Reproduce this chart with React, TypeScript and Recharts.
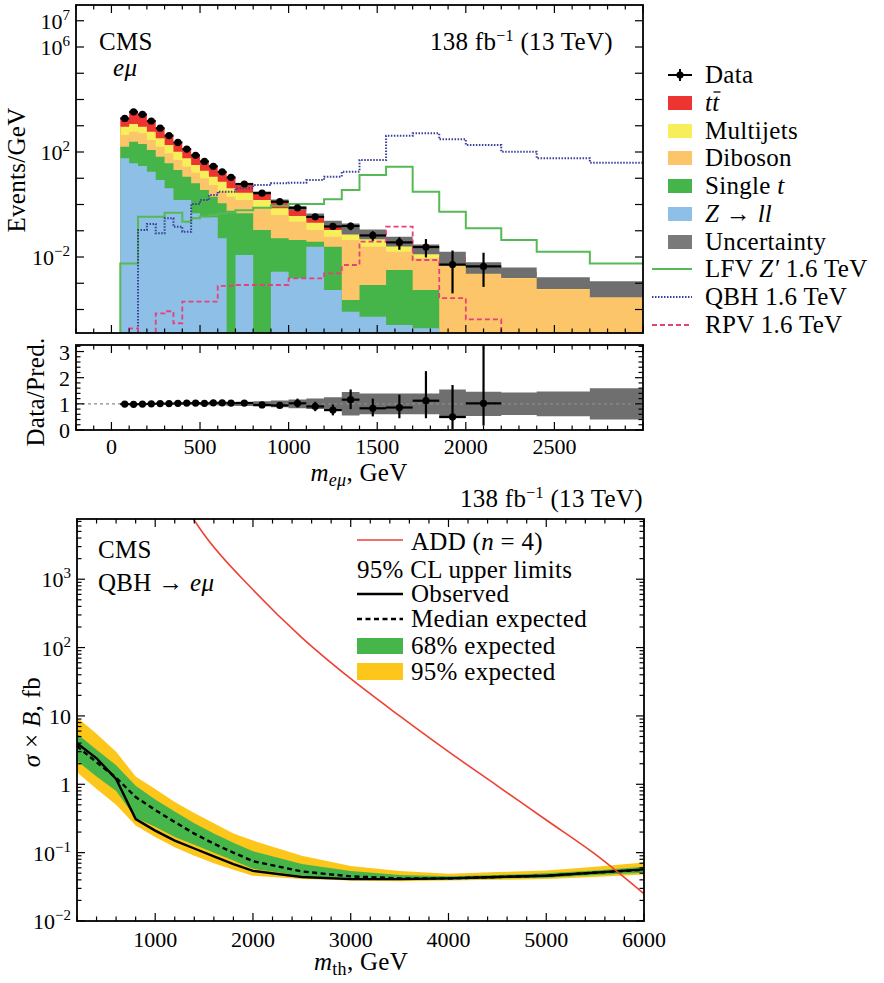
import React from "react";
import {
  ComposedChart,
  Area,
  Line,
  Scatter,
  ErrorBar,
  XAxis,
  YAxis,
  ReferenceLine,
} from "recharts";

const FONT = "'Liberation Serif', 'Times New Roman', serif";

/* ---------- e-mu invariant mass spectrum (events / GeV) ---------- */
const binEdges = [50, 100, 150, 200, 250, 300, 350, 400, 450, 500, 550, 600, 650, 700, 800, 900, 1000, 1100, 1200, 1300, 1400, 1550, 1700, 1850, 2000, 2200, 2400, 2700, 3000];

const ttbar = [996, 2276, 1800, 921, 466, 234, 124, 68.6, 40.4, 23.4, 16.1, 9.39, 6.37, 3.04, 1.34, 0.646, 0.371, 0.173, 0.085, 0.051, 0.0284, 0.0133, 0.0076, 0.00366, 0.00108, 0.00087, 0.00041, 0.0003];
const multijets = [478, 571, 409, 310, 172, 96, 53.5, 29.8, 15.7, 9.57, 5.97, 4.33, 2.14, 1.34, 0.766, 0.316, 0.143, 0.096, 0.047, 0.0353, 0.0266, 0.0126, 0.0049, 0.00169, 0.00067, 0.00035, 0.000154, 0.000111];
const diboson = [285, 348, 312, 167, 93.6, 51.9, 28.9, 16.1, 9.9, 6.37, 3.54, 1.97, 1.41, 1.02, 0.607, 0.347, 0.177, 0.0686, 0.0348, 0.0443, 0.0239, 0.0128, 0.00835, 0.00495, 0.00253, 0.00154, 0.000586, 0.000327];
const singleTop = [102.6, 211, 173, 101, 57.8, 32.9, 19.1, 10.0, 5.94, 3.24, 1.67, 1.06, 0.582, 0.448, 0.107, 0.0486, 0.043, 0.0136, 0.0242, 0.000148, 0.000804, 0.00317, 0.000534, 0, 0, 0, 0, 0];
const zll = [57.4, 37, 29.3, 17.8, 8.57, 4.13, 1.48, 1.48, 0.46, 0.324, 0.324, 0.0514, 0, 0.0119, 0, 0.00276, 0.00154, 0.0248, 0.000553, 0.0000826, 0.0000533, 0.0000257, 0.0000192, 0, 0, 0, 0, 0];
const uncRel = [0.03, 0.03, 0.03, 0.03, 0.03, 0.035, 0.035, 0.04, 0.045, 0.05, 0.055, 0.06, 0.07, 0.08, 0.1, 0.13, 0.17, 0.2, 0.25, 0.45, 0.4, 0.4, 0.4, 0.55, 0.46, 0.43, 0.47, 0.6];

const lfv = [0.0057, 0.0057, 0.344, 0.344, 0.344, 0.489, 0.489, 0.22, 0.3, 0.35, 0.4, 0.45, 0.5, 0.6, 0.75, 0.9, 1.04, 1.04, 1.57, 3.57, 13.3, 27.6, 3.08, 0.533, 0.124, 0.0445, 0.016, 0.0057];
const qbh = [0, 0, 0.107, 0.181, 0.08, 0.297, 0.143, 0.092, 1.04, 1.48, 2.3, 3.08, 3.08, 4.13, 5.53, 6.4, 6.79, 8.57, 11.5, 17.8, 49.5, 419, 514, 304, 185, 103, 57.4, 39.3];
const rpv = [0, 1.9e-5, 0, 0, 7.1e-5, 8.6e-5, 3e-5, 2e-4, 2e-4, 2e-4, 2e-4, 7.9e-4, 7.9e-4, 8.6e-4, 8.6e-4, 8.6e-4, 1.54e-3, 1.54e-3, 2.39e-3, 4.95e-3, 0.0384, 0.143, 0.0077, 2.7e-4, 4.2e-5, 0, 0, 0];

/* data / prediction, with error bar limits (first 25 bins have data) */
const ratio = [0.99, 0.98, 0.99, 1.0, 1.01, 1.01, 1.02, 1.03, 1.03, 1.02, 1.04, 1.04, 1.03, 1.03, 0.96, 0.94, 1.02, 0.9, 0.76, 1.16, 0.83, 0.86, 1.12, 0.5, 1.02];
const ratioLo = [0.985, 0.976, 0.986, 0.995, 1.004, 1.002, 1.01, 1.017, 1.013, 1.0, 1.015, 1.01, 0.995, 0.995, 0.91, 0.87, 0.86, 0.72, 0.56, 0.8, 0.52, 0.45, 0.45, 0.04, 0.17];
const ratioHi = [0.995, 0.984, 0.994, 1.005, 1.016, 1.018, 1.03, 1.043, 1.047, 1.04, 1.065, 1.07, 1.065, 1.065, 1.01, 1.01, 1.2, 1.08, 0.97, 1.55, 1.2, 1.35, 2.25, 1.72, 3.4];

/* ---------- QBH -> e mu limits (fb) ---------- */
const limMass = [200, 400, 600, 800, 1000, 1200, 1400, 1600, 1800, 2000, 2500, 3000, 3500, 4000, 4500, 5000, 5500, 6000];
const observed = [4.0, 2.4, 1.2, 0.31, 0.21, 0.15, 0.115, 0.088, 0.068, 0.054, 0.044, 0.041, 0.041, 0.042, 0.044, 0.046, 0.051, 0.057];
const expected = [3.6, 2.1, 1.25, 0.65, 0.42, 0.28, 0.19, 0.135, 0.1, 0.075, 0.053, 0.045, 0.042, 0.042, 0.044, 0.046, 0.051, 0.056];
const exp68Lo = [2.2, 1.3, 0.8, 0.32, 0.24, 0.17, 0.13, 0.1, 0.077, 0.058, 0.046, 0.041, 0.04, 0.04, 0.042, 0.043, 0.047, 0.051];
const exp68Hi = [5.5, 3.2, 1.9, 0.95, 0.6, 0.4, 0.27, 0.19, 0.14, 0.105, 0.068, 0.054, 0.047, 0.045, 0.047, 0.05, 0.055, 0.062];
const exp95Lo = [1.5, 0.85, 0.5, 0.25, 0.17, 0.12, 0.09, 0.07, 0.056, 0.046, 0.041, 0.039, 0.038, 0.039, 0.04, 0.041, 0.044, 0.048];
const exp95Hi = [9.5, 5.5, 3.0, 1.3, 0.85, 0.55, 0.38, 0.27, 0.19, 0.15, 0.09, 0.064, 0.054, 0.049, 0.052, 0.055, 0.062, 0.072];
const addMass = [1300, 1500, 2000, 2500, 3000, 3500, 4000, 4500, 5000, 5500, 6000];
const addXsec = [12000, 4500, 700, 140, 35, 10, 3.0, 0.95, 0.3, 0.095, 0.025];

/* ---------- build tables ---------- */
const FLOOR = 1e-9;
const TOP_MIN = Math.pow(10, -4.895);
const TOP_MAX = Math.pow(10, 7.6);
const R_MAX = 3.25;
const LIM_MIN = 0.01;
const LIM_MAX = 7600;
const nb = binEdges.length - 1;

const stackRows = binEdges.map((x, i) => {
  const j = Math.min(i, nb - 1);
  const z = zll[j];
  const st = z + singleTop[j];
  const db = st + diboson[j];
  const mj = db + multijets[j];
  const tt = mj + ttbar[j];
  return {
    x,
    z: Math.max(z, FLOOR),
    st: Math.max(st, FLOOR),
    db,
    mj,
    tt,
    unc: [tt * (1 - uncRel[j]), tt * (1 + uncRel[j])],
    band: [1 - uncRel[j], 1 + uncRel[j]],
  };
});

const sigRows = [
  { x: binEdges[0], lfv: FLOOR, qbh: FLOOR, rpv: FLOOR },
  ...binEdges.map((x, i) => {
    const j = Math.min(i, nb - 1);
    return { x, lfv: Math.max(lfv[j], FLOOR), qbh: Math.max(qbh[j], FLOOR), rpv: Math.max(rpv[j], FLOOR) };
  }),
];

const dataPts = ratio.map((r, i) => {
  const lo = binEdges[i];
  const hi = binEdges[i + 1];
  const tot = stackRows[i].tt;
  const y = tot * r;
  return { x: (lo + hi) / 2, y, ex: [(hi - lo) / 2, (hi - lo) / 2], ey: [y - tot * ratioLo[i], tot * ratioHi[i] - y] };
});

const ratioPts = ratio.map((r, i) => {
  const lo = binEdges[i];
  const hi = binEdges[i + 1];
  return { x: (lo + hi) / 2, y: r, ex: [(hi - lo) / 2, (hi - lo) / 2], ey: [r - ratioLo[i], Math.min(ratioHi[i], R_MAX) - r] };
});

const limRows = limMass.map((x, i) => ({
  x,
  obs: observed[i],
  exp: expected[i],
  b68: [exp68Lo[i], exp68Hi[i]],
  b95: [exp95Lo[i], exp95Hi[i]],
}));
const addRows = addMass.map((x, i) => ({ x, add: addXsec[i] }));

/* ---------- ticks ---------- */
const range = (a: number, b: number, s: number) => {
  const out: number[] = [];
  for (let v = a; v <= b + 1e-9; v += s) out.push(Math.round(v * 1000) / 1000);
  return out;
};
const topTicksX = range(-200, 3000, 100);
const topTicksY = range(-4, 7, 1).map((e) => Math.pow(10, e));
const ratioTicksY = range(0, 3.2, 0.2);
const limTicksX = range(200, 6000, 200);
const limTicksY: number[] = [];
for (let e = -2; e <= 3; e++) for (let m = 1; m <= 9; m++) if (m * Math.pow(10, e) <= LIM_MAX) limTicksY.push(m * Math.pow(10, e));

const sup = (base: string, exp: string) => (
  <>
    <tspan>{base}</tspan>
    <tspan dy={-9} fontSize={15}>{exp}</tspan>
  </>
);
const powLabel = (v: number) => {
  const e = Math.round(Math.log10(v));
  if (e === 0) return "1";
  if (e === 1) return "10";
  return sup("10", e < 0 ? "\u2212" + -e : String(e));
};

const xTick =
  (top: number, bottom: number, isMajor: (v: number) => boolean, label: (v: number) => string | null, labelY: number) =>
  (p: any) => {
    const x = p.payload?.coordinate ?? p.x;
    const v = p.payload.value;
    const len = isMajor(v) ? 8 : 4.5;
    const lab = label(v);
    return (
      <g>
        <line x1={x} x2={x} y1={bottom} y2={bottom - len} stroke="#000" strokeWidth={1.2} />
        <line x1={x} x2={x} y1={top} y2={top + len} stroke="#000" strokeWidth={1.2} />
        {lab && (
          <text x={x} y={labelY} textAnchor="middle" fontFamily={FONT} fontSize={22} fill="#000">
            {lab}
          </text>
        )}
      </g>
    );
  };

const yTick =
  (left: number, right: number, isMajor: (v: number) => boolean, label: (v: number) => React.ReactNode | null) =>
  (p: any) => {
    const y = p.payload?.coordinate ?? p.y;
    const v = p.payload.value;
    const len = isMajor(v) ? 8 : 4.5;
    const lab = label(v);
    return (
      <g>
        <line x1={left} x2={left + len} y1={y} y2={y} stroke="#000" strokeWidth={1.2} />
        <line x1={right - len} x2={right} y1={y} y2={y} stroke="#000" strokeWidth={1.2} />
        {lab && (
          <text x={left - 6} y={y + 8} textAnchor="end" fontFamily={FONT} fontSize={22} fill="#000">
            {lab}
          </text>
        )}
      </g>
    );
  };

const near = (a: number, b: number) => Math.abs(a - b) < 1e-6;
const dot = (p: any) => <circle cx={p.cx} cy={p.cy} r={3.6} fill="#000" />;

const C = {
  tt: "#ed3431",
  mj: "#f6ee5a",
  db: "#fcc56a",
  st: "#46b549",
  z: "#8ebfe7",
  unc: "#6f6f6f",
  lfv: "#55b955",
  qbh: "#3b3f99",
  rpv: "#e8407a",
  g68: "#46b54a",
  y95: "#fdc61a",
  add: "#ee4035",
};

/* ---------- panels ---------- */
function SpectrumPanel() {
  const labelsTop: Record<number, string> = { 7: "7", 6: "6", 2: "2", [-2]: "\u22122" };
  return (
    <ComposedChart width={884} height={340} data={stackRows} margin={{ top: 5, right: 241, bottom: 6, left: 75 }}>
      <Area dataKey="tt" type="stepAfter" fill={C.tt} fillOpacity={1} stroke="none" baseValue={TOP_MIN} dot={false} activeDot={false} isAnimationActive={false} />
      <Area dataKey="mj" type="stepAfter" fill={C.mj} fillOpacity={1} stroke="none" baseValue={TOP_MIN} dot={false} activeDot={false} isAnimationActive={false} />
      <Area dataKey="db" type="stepAfter" fill={C.db} fillOpacity={1} stroke="none" baseValue={TOP_MIN} dot={false} activeDot={false} isAnimationActive={false} />
      <Area dataKey="st" type="stepAfter" fill={C.st} fillOpacity={1} stroke="none" baseValue={TOP_MIN} dot={false} activeDot={false} isAnimationActive={false} />
      <Area dataKey="z" type="stepAfter" fill={C.z} fillOpacity={1} stroke="none" baseValue={TOP_MIN} dot={false} activeDot={false} isAnimationActive={false} />
      <Area dataKey="unc" type="stepAfter" fill={C.unc} fillOpacity={1} stroke="none" dot={false} activeDot={false} isAnimationActive={false} />
      <Line data={sigRows} dataKey="lfv" type="stepAfter" stroke={C.lfv} strokeWidth={2} dot={false} activeDot={false} isAnimationActive={false} />
      <Line data={sigRows} dataKey="qbh" type="stepAfter" stroke={C.qbh} strokeWidth={2} strokeDasharray="1.5 1.5" dot={false} activeDot={false} isAnimationActive={false} />
      <Line data={sigRows} dataKey="rpv" type="stepAfter" stroke={C.rpv} strokeWidth={1.8} strokeDasharray="5 3" dot={false} activeDot={false} isAnimationActive={false} />
      <Scatter data={dataPts} dataKey="y" shape={dot} isAnimationActive={false}>
        <ErrorBar dataKey="ey" direction="y" width={0} stroke="#000" strokeWidth={2.2} isAnimationActive={false} />
        <ErrorBar dataKey="ex" direction="x" width={0} stroke="#000" strokeWidth={2.2} isAnimationActive={false} />
      </Scatter>
      <XAxis
        dataKey="x"
        type="number"
        domain={[-200, 3000]}
        allowDataOverflow
        ticks={topTicksX}
        interval={0}
        height={1}
        axisLine={false}
        tickLine={false}
        tick={xTick(5, 333, (v) => near(v % 500, 0), () => null, 0)}
      />
      <YAxis
        scale="log"
        domain={[TOP_MIN, TOP_MAX]}
        allowDataOverflow
        ticks={topTicksY}
        interval={0}
        width={1}
        axisLine={false}
        tickLine={false}
        tick={yTick(76, 643, () => true, (v) => {
          const e = Math.round(Math.log10(v));
          return labelsTop[e] ? sup("10", labelsTop[e]) : null;
        })}
      />
    </ComposedChart>
  );
}

function RatioPanel() {
  return (
    <ComposedChart width={884} height={160} data={stackRows} margin={{ top: 15, right: 241, bottom: 59, left: 75 }}>
      <Area dataKey="band" type="stepAfter" fill={C.unc} fillOpacity={1} stroke="none" dot={false} activeDot={false} isAnimationActive={false} />
      <ReferenceLine y={1} stroke="#8a8a8a" strokeWidth={1.3} strokeDasharray="3 3" />
      <Scatter data={ratioPts} dataKey="y" shape={dot} isAnimationActive={false}>
        <ErrorBar dataKey="ey" direction="y" width={0} stroke="#000" strokeWidth={2.2} isAnimationActive={false} />
        <ErrorBar dataKey="ex" direction="x" width={0} stroke="#000" strokeWidth={2.2} isAnimationActive={false} />
      </Scatter>
      <XAxis
        dataKey="x"
        type="number"
        domain={[-200, 3000]}
        allowDataOverflow
        ticks={topTicksX}
        interval={0}
        height={1}
        axisLine={false}
        tickLine={false}
        tick={xTick(15, 100, (v) => near(v % 500, 0), (v) => (near(v % 500, 0) && v >= 0 && v < 3000 ? String(v) : null), 124)}
      />
      <YAxis
        domain={[0, R_MAX]}
        allowDataOverflow
        ticks={ratioTicksY}
        interval={0}
        width={1}
        axisLine={false}
        tickLine={false}
        tick={yTick(76, 643, (v) => near(v, Math.round(v)), (v) => (near(v, Math.round(v)) ? String(Math.round(v)) : null))}
      />
    </ComposedChart>
  );
}

function LimitPanel() {
  return (
    <ComposedChart width={884} height={493} data={limRows} margin={{ top: 29, right: 240, bottom: 61, left: 76 }}>
      <Area dataKey="b95" type="linear" fill={C.y95} fillOpacity={1} stroke="none" dot={false} activeDot={false} isAnimationActive={false} />
      <Area dataKey="b68" type="linear" fill={C.g68} fillOpacity={1} stroke="none" dot={false} activeDot={false} isAnimationActive={false} />
      <Line dataKey="exp" type="linear" stroke="#000" strokeWidth={2.4} strokeDasharray="5 3.5" dot={false} activeDot={false} isAnimationActive={false} />
      <Line dataKey="obs" type="linear" stroke="#000" strokeWidth={2.4} dot={false} activeDot={false} isAnimationActive={false} />
      <Line data={addRows} dataKey="add" type="monotone" stroke={C.add} strokeWidth={1.6} dot={false} activeDot={false} isAnimationActive={false} />
      <XAxis
        dataKey="x"
        type="number"
        domain={[200, 6000]}
        allowDataOverflow
        ticks={limTicksX}
        interval={0}
        height={1}
        axisLine={false}
        tickLine={false}
        tick={xTick(29, 431, (v) => near(v % 1000, 0), (v) => (near(v % 1000, 0) ? String(v) : null), 457)}
      />
      <YAxis
        scale="log"
        domain={[LIM_MIN, LIM_MAX]}
        allowDataOverflow
        ticks={limTicksY}
        interval={0}
        width={1}
        axisLine={false}
        tickLine={false}
        tick={yTick(77, 644, (v) => near(Math.log10(v), Math.round(Math.log10(v))), (v) =>
          near(Math.log10(v), Math.round(Math.log10(v))) ? powLabel(v) : null
        )}
      />
    </ComposedChart>
  );
}

/* ---------- text, legends, frames ---------- */
const T = (props: any) => <text fontFamily={FONT} fontSize={25} letterSpacing={0.3} fill="#000" {...props} />;
const I = (props: any) => <tspan fontStyle="italic" {...props} />;

function Overlay() {
  const lx = 705;
  const rows = [75, 103, 131, 158, 186, 214, 242, 269, 297, 325];
  const box = (cy: number, fill: string) => <rect x={668} y={cy - 7} width={24} height={14} fill={fill} />;
  const by = [542, 569.5, 594, 619, 646, 671.5];
  return (
    <svg width={884} height={983} style={{ position: "absolute", left: 0, top: 0, pointerEvents: "none" }}>
      <rect x={76} y={5} width={567} height={328} fill="none" stroke="#000" strokeWidth={1.8} />
      <rect x={76} y={345} width={567} height={85} fill="none" stroke="#000" strokeWidth={1.8} />
      <rect x={77} y={519} width={567} height={402} fill="none" stroke="#000" strokeWidth={1.8} />

      {/* top panel labels */}
      <T x={99} y={50}>CMS</T>
      <T x={113} y={76}>
        <I>eμ</I>
      </T>
      <T x={613} y={49.5} textAnchor="end">
        138 fb<tspan dy={-9} fontSize={16}>{"\u22121"}</tspan>
        <tspan dy={9}> (13 TeV)</tspan>
      </T>
      <T transform="translate(25,170) rotate(-90)" textAnchor="middle">Events/GeV</T>
      <T transform="translate(44,392) rotate(-90)" textAnchor="middle">Data/Pred.</T>
      <T x={359} y={481} textAnchor="middle">
        <I>m</I>
        <I fontSize={18} dy={5}>eμ</I>
        <tspan dy={-5}>, GeV</tspan>
      </T>

      {/* spectrum legend */}
      <line x1={668} x2={692} y1={rows[0]} y2={rows[0]} stroke="#000" strokeWidth={2} />
      <line x1={680} x2={680} y1={rows[0] - 6} y2={rows[0] + 6} stroke="#000" strokeWidth={2} />
      <circle cx={680} cy={rows[0]} r={3.6} fill="#000" />
      <T x={lx} y={rows[0] + 8}>Data</T>
      {box(rows[1], C.tt)}
      <T x={lx} y={rows[1] + 8}>
        <I>tt</I>
      </T>
      <line x1={713.5} x2={720.5} y1={rows[1] - 11} y2={rows[1] - 11} stroke="#000" strokeWidth={1.3} />
      {box(rows[2], C.mj)}
      <T x={lx} y={rows[2] + 8}>Multijets</T>
      {box(rows[3], C.db)}
      <T x={lx} y={rows[3] + 8}>Diboson</T>
      {box(rows[4], C.st)}
      <T x={lx} y={rows[4] + 8}>
        Single <I>t</I>
      </T>
      {box(rows[5], C.z)}
      <T x={lx} y={rows[5] + 8}>
        <I>Z</I> → <I>ll</I>
      </T>
      {box(rows[6], "#7a7a7a")}
      <T x={lx} y={rows[6] + 8}>Uncertainty</T>
      <line x1={652} x2={692} y1={rows[7]} y2={rows[7]} stroke={C.lfv} strokeWidth={2} />
      <T x={lx} y={rows[7] + 8}>
        LFV <I>Z′</I> 1.6 TeV
      </T>
      <line x1={652} x2={692} y1={rows[8]} y2={rows[8]} stroke={C.qbh} strokeWidth={2} strokeDasharray="1.5 1.5" />
      <T x={lx} y={rows[8] + 8}>QBH 1.6 TeV</T>
      <line x1={652} x2={692} y1={rows[9]} y2={rows[9]} stroke={C.rpv} strokeWidth={1.8} strokeDasharray="5 3" />
      <T x={lx} y={rows[9] + 8}>RPV 1.6 TeV</T>

      {/* limit panel labels */}
      <T x={643} y={507} textAnchor="end">
        138 fb<tspan dy={-9} fontSize={16}>{"\u22121"}</tspan>
        <tspan dy={9}> (13 TeV)</tspan>
      </T>
      <T x={98} y={558}>CMS</T>
      <T x={98} y={591}>
        QBH → <I>eμ</I>
      </T>
      <T transform="translate(40,722) rotate(-90)" textAnchor="middle">
        <I>σ</I> × <I>B</I>, fb
      </T>
      <T x={361} y={970} textAnchor="middle">
        <I>m</I>
        <tspan fontSize={18} dy={5}>th</tspan>
        <tspan dy={-5}>, GeV</tspan>
      </T>

      {/* limit legend */}
      <line x1={357} x2={403} y1={by[0] - 2} y2={by[0] - 2} stroke={C.add} strokeWidth={1.6} />
      <T x={411} y={by[0] + 8}>
        ADD (<I>n</I> = 4)
      </T>
      <T x={357} y={by[1] + 8}>95% CL upper limits</T>
      <line x1={357} x2={403} y1={by[2]} y2={by[2]} stroke="#000" strokeWidth={2.4} />
      <T x={411} y={by[2] + 8}>Observed</T>
      <line x1={357} x2={403} y1={by[3]} y2={by[3]} stroke="#000" strokeWidth={2.4} strokeDasharray="5 3.5" />
      <T x={411} y={by[3] + 8}>Median expected</T>
      <rect x={357} y={by[4] - 8} width={46} height={16} fill={C.g68} />
      <T x={411} y={by[4] + 8}>68% expected</T>
      <rect x={357} y={by[5] - 8.5} width={46} height={17} fill={C.y95} />
      <T x={411} y={by[5] + 8}>95% expected</T>
    </svg>
  );
}

export default function App() {
  return (
    <div style={{ position: "absolute", left: 0, top: 0, width: 884, height: 983, background: "#fff", overflow: "hidden" }}>
      <div style={{ position: "absolute", left: 0, top: 0 }}>
        <SpectrumPanel />
      </div>
      <div style={{ position: "absolute", left: 0, top: 330 }}>
        <RatioPanel />
      </div>
      <div style={{ position: "absolute", left: 0, top: 490 }}>
        <LimitPanel />
      </div>
      <Overlay />
    </div>
  );
}
